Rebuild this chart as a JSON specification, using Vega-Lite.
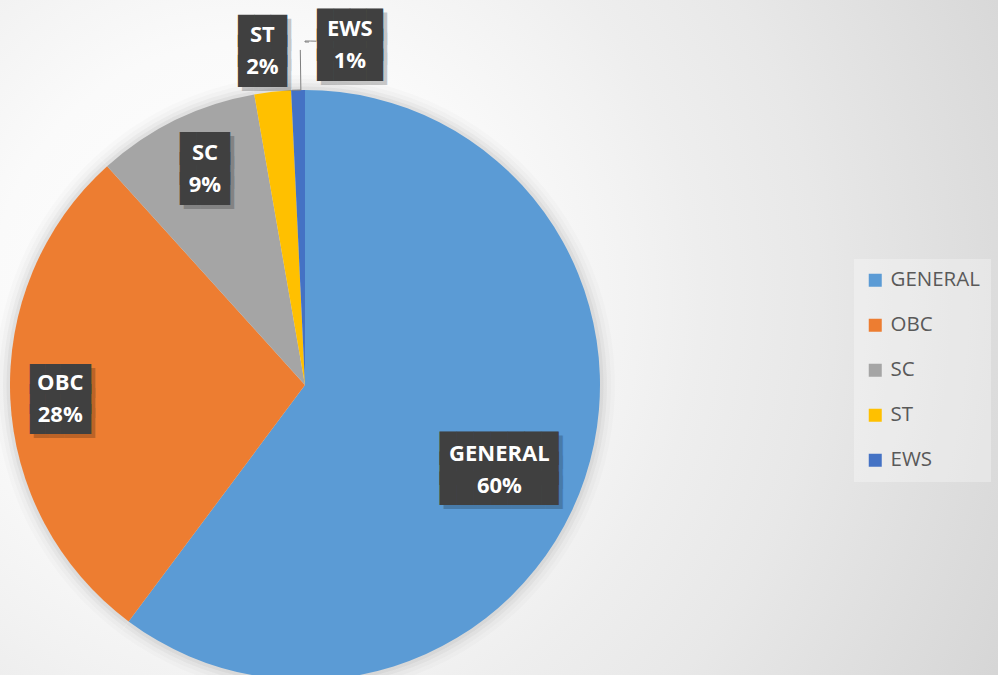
{
  "$schema": "https://vega.github.io/schema/vega-lite/v6.json",
  "width": 1386,
  "height": 770,
  "autosize": {"type": "none"},
  "padding": {"left": -388, "top": 0, "right": 0, "bottom": 0},
  "background": "#e4e4e4",
  "view": {
    "stroke": null,
    "fill": {
      "gradient": "radial",
      "x1": 0.46, "y1": 0.4387, "r1": 0,
      "x2": 0.46, "y2": 0.4387, "r2": 0.62,
      "stops": [
        {"offset": 0, "color": "#ffffff"},
        {"offset": 0.3, "color": "#fafafa"},
        {"offset": 0.454, "color": "#f2f2f2"},
        {"offset": 0.524, "color": "#eeeeee"},
        {"offset": 0.664, "color": "#e8e8e8"},
        {"offset": 0.938, "color": "#d8d8d8"},
        {"offset": 1, "color": "#d4d4d4"}
      ]
    }
  },
  "data": {
    "values": [
      {"category": "GENERAL", "share": 0.602},
      {"category": "OBC", "share": 0.281},
      {"category": "SC", "share": 0.0895},
      {"category": "ST", "share": 0.02},
      {"category": "EWS", "share": 0.0075}
    ]
  },
  "transform": [
    {"calculate": "[datum.category, format(datum.share, '.0%')]", "as": "label"}
  ],
  "encoding": {
    "theta": {"field": "share", "type": "quantitative", "stack": true},
    "order": {"field": "share", "sort": "descending"},
    "detail": {"field": "category", "type": "nominal"}
  },
  "layer": [
    {"mark": {"type": "arc", "outerRadius": 310, "fill": "#000000", "opacity": 0.015}},
    {"mark": {"type": "arc", "outerRadius": 306, "fill": "#000000", "opacity": 0.02}},
    {"mark": {"type": "arc", "outerRadius": 302, "fill": "#000000", "opacity": 0.03}},
    {"mark": {"type": "arc", "outerRadius": 298.5, "fill": "#000000", "opacity": 0.04}},
    {
      "mark": {"type": "arc", "outerRadius": 295},
      "encoding": {
        "color": {
          "field": "category",
          "type": "nominal",
          "scale": {
            "domain": ["GENERAL", "OBC", "SC", "ST", "EWS"],
            "range": ["#5B9BD5", "#ED7D31", "#A5A5A5", "#FFC000", "#4472C4"]
          },
          "legend": {
            "orient": "none",
            "legendX": 1242,
            "legendY": 259,
            "title": null,
            "symbolType": "square",
            "symbolSize": 169,
            "symbolStrokeWidth": 0,
            "labelFont": "Open Sans",
            "labelFontSize": 20.5,
            "labelColor": "#595959",
            "labelOffset": 5,
            "rowPadding": 24,
            "padding": 11,
            "fillColor": "rgba(255,255,255,0.3)"
          }
        }
      }
    },
    {
      "mark": {"type": "arc", "radius": 344, "radius2": 295, "thetaOffset": -0.014, "fillOpacity": 0, "stroke": "#7f7f7f", "strokeWidth": 1, "strokeDash": [49, 3000], "strokeDashOffset": -70.2},
      "encoding": {"opacity": {"condition": {"test": "datum.category === 'EWS'", "value": 1}, "value": 0}}
    },
    {
      "mark": {"type": "arc", "radius": 344, "radius2": 343, "theta2Offset": -0.014, "fillOpacity": 0, "stroke": "#7f7f7f", "strokeWidth": 1, "strokeDash": [16.8, 5000], "strokeDashOffset": -1289.2},
      "encoding": {"opacity": {"condition": {"test": "datum.category === 'GENERAL'", "value": 1}, "value": 0}}
    },
    {
      "mark": {"type": "text", "radius": 211, "thetaOffset": 0.079, "dx": 4, "dy": -13, "font": "DejaVu Sans Mono", "fontSize": 28.2, "lineHeight": 20, "color": "#000000", "opacity": 0.2, "align": "center", "baseline": "middle"},
      "encoding": {"text": {"condition": {"test": "datum.category === 'GENERAL'", "value": ["███████", "███████", "███████"]}, "value": ""}}
    },
    {
      "mark": {"type": "text", "radius": 211, "thetaOffset": 0.079, "dy": -17, "font": "DejaVu Sans Mono", "fontSize": 28.2, "lineHeight": 20, "color": "#404040", "align": "center", "baseline": "middle"},
      "encoding": {"text": {"condition": {"test": "datum.category === 'GENERAL'", "value": ["███████", "███████", "███████"]}, "value": ""}}
    },
    {
      "mark": {"type": "text", "radius": 211, "thetaOffset": 0.079, "dy": -13.5, "font": "Open Sans", "fontWeight": "bold", "fontSize": 22, "lineHeight": 32, "color": "#ffffff", "align": "center", "baseline": "middle"},
      "encoding": {"text": {"condition": {"test": "datum.category === 'GENERAL'", "field": "label"}, "value": ""}}
    },
    {
      "mark": {"type": "text", "radius": 245, "dx": 4, "dy": -13, "font": "DejaVu Sans Mono", "fontSize": 25.3, "lineHeight": 20, "color": "#000000", "opacity": 0.2, "align": "center", "baseline": "middle"},
      "encoding": {"text": {"condition": {"test": "datum.category === 'OBC'", "value": ["████", "████", "████"]}, "value": ""}}
    },
    {
      "mark": {"type": "text", "radius": 245, "dy": -17, "font": "DejaVu Sans Mono", "fontSize": 25.3, "lineHeight": 20, "color": "#404040", "align": "center", "baseline": "middle"},
      "encoding": {"text": {"condition": {"test": "datum.category === 'OBC'", "value": ["████", "████", "████"]}, "value": ""}}
    },
    {
      "mark": {"type": "text", "radius": 245, "dy": -13.5, "font": "Open Sans", "fontWeight": "bold", "fontSize": 22, "lineHeight": 32, "color": "#ffffff", "align": "center", "baseline": "middle"},
      "encoding": {"text": {"condition": {"test": "datum.category === 'OBC'", "field": "label"}, "value": ""}}
    },
    {
      "mark": {"type": "text", "radius": 240, "thetaOffset": 0.024, "dx": 4, "dy": -13, "font": "DejaVu Sans Mono", "fontSize": 27.7, "lineHeight": 20, "color": "#000000", "opacity": 0.2, "align": "center", "baseline": "middle"},
      "encoding": {"text": {"condition": {"test": "datum.category === 'SC'", "value": ["███", "███", "███"]}, "value": ""}}
    },
    {
      "mark": {"type": "text", "radius": 240, "thetaOffset": 0.024, "dy": -17, "font": "DejaVu Sans Mono", "fontSize": 27.7, "lineHeight": 20, "color": "#404040", "align": "center", "baseline": "middle"},
      "encoding": {"text": {"condition": {"test": "datum.category === 'SC'", "value": ["███", "███", "███"]}, "value": ""}}
    },
    {
      "mark": {"type": "text", "radius": 240, "thetaOffset": 0.024, "dy": -13.5, "font": "Open Sans", "fontWeight": "bold", "fontSize": 22, "lineHeight": 32, "color": "#ffffff", "align": "center", "baseline": "middle"},
      "encoding": {"text": {"condition": {"test": "datum.category === 'SC'", "field": "label"}, "value": ""}}
    },
    {
      "mark": {"type": "text", "radius": 339, "thetaOffset": -0.016, "dx": 4, "dy": -13, "font": "DejaVu Sans Mono", "fontSize": 27.1, "lineHeight": 20, "color": "#000000", "opacity": 0.2, "align": "center", "baseline": "middle"},
      "encoding": {"text": {"condition": {"test": "datum.category === 'ST'", "value": ["███", "███", "███"]}, "value": ""}}
    },
    {
      "mark": {"type": "text", "radius": 339, "thetaOffset": -0.016, "dy": -17, "font": "DejaVu Sans Mono", "fontSize": 27.1, "lineHeight": 20, "color": "#404040", "align": "center", "baseline": "middle"},
      "encoding": {"text": {"condition": {"test": "datum.category === 'ST'", "value": ["███", "███", "███"]}, "value": ""}}
    },
    {
      "mark": {"type": "text", "radius": 339, "thetaOffset": -0.016, "dy": -13.5, "font": "Open Sans", "fontWeight": "bold", "fontSize": 22, "lineHeight": 32, "color": "#ffffff", "align": "center", "baseline": "middle"},
      "encoding": {"text": {"condition": {"test": "datum.category === 'ST'", "field": "label"}, "value": ""}}
    },
    {
      "mark": {"type": "text", "radius": 345, "thetaOffset": 0.154, "dx": 4, "dy": -13, "font": "DejaVu Sans Mono", "fontSize": 27.4, "lineHeight": 20, "color": "#000000", "opacity": 0.2, "align": "center", "baseline": "middle"},
      "encoding": {"text": {"condition": {"test": "datum.category === 'EWS'", "value": ["████", "████", "████"]}, "value": ""}}
    },
    {
      "mark": {"type": "text", "radius": 345, "thetaOffset": 0.154, "dy": -17, "font": "DejaVu Sans Mono", "fontSize": 27.4, "lineHeight": 20, "color": "#404040", "align": "center", "baseline": "middle"},
      "encoding": {"text": {"condition": {"test": "datum.category === 'EWS'", "value": ["████", "████", "████"]}, "value": ""}}
    },
    {
      "mark": {"type": "text", "radius": 345, "thetaOffset": 0.154, "dy": -13.5, "font": "Open Sans", "fontWeight": "bold", "fontSize": 22, "lineHeight": 32, "color": "#ffffff", "align": "center", "baseline": "middle"},
      "encoding": {"text": {"condition": {"test": "datum.category === 'EWS'", "field": "label"}, "value": ""}}
    }
  ]
}
